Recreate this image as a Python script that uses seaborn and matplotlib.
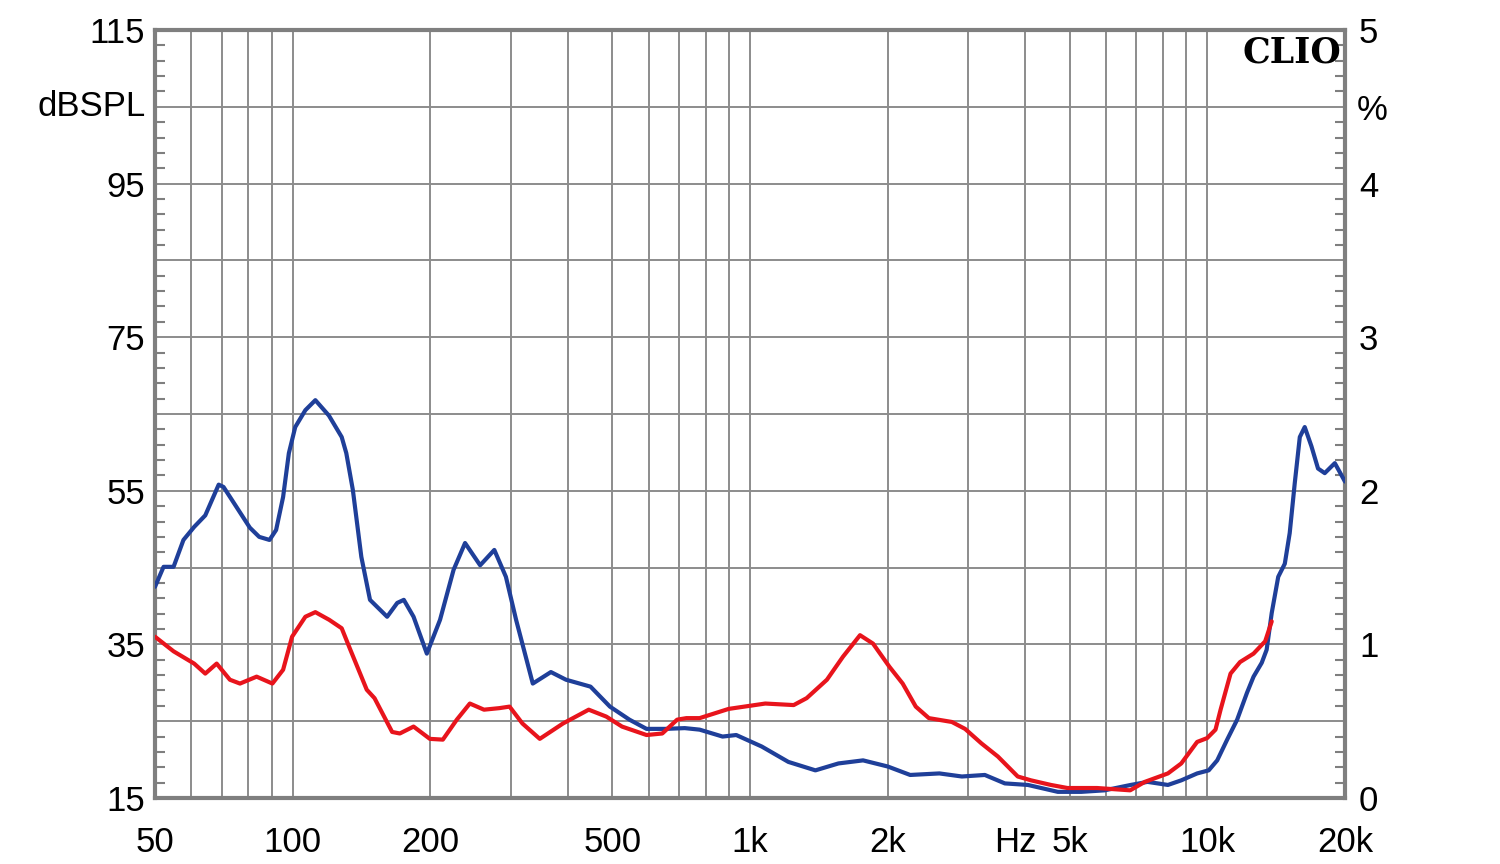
import numpy as np
import pandas as pd
import matplotlib
matplotlib.use("Agg")
import matplotlib.pyplot as plt
import matplotlib.transforms as mtransforms
import seaborn as sns

# ---- data ----
blue_freq = [50, 52.2, 54.9, 57.7, 60.9, 64.4, 68.9, 70.6, 76.1, 80.6, 84.5, 89, 92, 95.3, 98.1,
             101.3, 106.6, 112.1, 120, 128, 131, 135.4, 141.3, 147.6, 160.9, 169.3, 175, 183.8,
             196.5, 210, 224.8, 238.2, 257, 276, 292.6, 308, 335, 367, 396, 448, 494, 545, 594,
             654, 720, 776, 871, 933, 1061, 1213, 1390, 1561, 1767, 2001, 2240, 2595, 2906,
             3262, 3608, 4052, 4711, 5300, 5964, 6800, 7400, 8200, 8770, 9500, 10070, 10510,
             11050, 11620, 12210, 12620, 13150, 13480, 13830, 14290, 14770, 15140, 15530,
             15930, 16330, 16890, 17460, 18060, 19000, 20000]
blue_db = [42.5, 45.1, 45.1, 48.6, 50.3, 51.8, 55.8, 55.5, 52.5, 50.2, 49.0, 48.6, 49.9, 54.2, 59.9,
           63.3, 65.5, 66.8, 64.8, 62, 59.9, 55.1, 46.4, 40.8, 38.6, 40.4, 40.8, 38.6,
           33.8, 38.2, 44.7, 48.2, 45.3, 47.3, 43.8, 38.2, 29.9, 31.4, 30.4, 29.5, 26.9, 25.2, 24,
           24, 24.1, 23.9, 23, 23.2, 21.7, 19.7, 18.6, 19.5, 19.9, 19.1, 18, 18.2, 17.8,
           18, 16.9, 16.7, 15.8, 15.8, 16, 16.7, 17.1, 16.7, 17.3, 18.2, 18.6, 19.9,
           22.6, 25.2, 28.7, 30.8, 32.6, 34.3, 39.1, 43.8, 45.5, 49.5, 56,
           62, 63.3, 60.8, 57.9, 57.3, 58.6, 56.2]

red_freq = [50, 54.9, 60.9, 64.4, 68.2, 72.9, 76.7, 83.4, 90.3, 95.3, 99.7, 106.6, 112.1, 120.2,
            128, 133.7, 145.2, 151, 165, 171.5, 183.8, 199.5, 213, 228.5, 244, 262, 283, 298,
            318, 347, 390, 444, 485, 525, 594, 643, 693, 726, 776, 898, 1080, 1246, 1330, 1473,
            1597, 1740, 1858, 2017, 2157, 2304, 2461, 2763, 2953, 3208, 3484, 3850, 4115, 4550,
            4945, 5740, 6780, 7300, 8200, 8770, 9500, 9990, 10420, 10690, 11240, 11790, 12620,
            13380, 13830]
red_db = [36, 34.1, 32.5, 31.2, 32.5, 30.4, 29.9, 30.8, 29.9, 31.7, 36, 38.6, 39.2, 38.2,
          37.1, 34.3, 29.1, 28, 23.6, 23.4, 24.3, 22.7, 22.6, 25.2, 27.3, 26.5, 26.7, 26.9,
          24.7, 22.7, 24.7, 26.5, 25.6, 24.3, 23.2, 23.4, 25.2, 25.4, 25.4, 26.6, 27.3, 27.1, 28, 30.4,
          33.4, 36.2, 35.1, 32.1, 29.9, 26.9, 25.4, 24.9, 24, 22.1, 20.4, 17.8, 17.3, 16.7,
          16.3, 16.3, 16, 17.1, 18.2, 19.5, 22.3, 22.8, 23.9, 26.5, 31.2, 32.7, 33.8,
          35.4, 38]

x_ticks = [50, 100, 200, 500, 1000, 2000, 5000, 10000, 20000]
x_labels = ["50", "100", "200", "500", "1k", "2k", "5k", "10k", "20k"]
y_left_ticks = [15, 35, 55, 75, 95, 115]
y_right_ticks = [0, 1, 2, 3, 4, 5]

# ---- styling ----
sns.set_style("white")
plt.rcParams['font.family'] = ['Liberation Sans', 'DejaVu Sans']
plt.rcParams['text.color'] = 'black'
plt.rcParams['xtick.labelcolor'] = 'black'
plt.rcParams['ytick.labelcolor'] = 'black'

GRID = "#8c8c8c"
SPINE = "#7f7f7f"
FS = 25

fig = plt.figure(figsize=(15, 8.64), dpi=100)
ax = fig.add_axes([155 / 1500, 1 - 798 / 864, 1190 / 1500, 768 / 864])

df_blue = pd.DataFrame({"f": blue_freq, "db": blue_db})
df_red = pd.DataFrame({"f": red_freq, "db": red_db})
sns.lineplot(data=df_blue, x="f", y="db", ax=ax, color="#1f3f99", linewidth=3.0, zorder=3)
sns.lineplot(data=df_red, x="f", y="db", ax=ax, color="#e8141c", linewidth=3.0, zorder=4)

ax.set_xscale("log")
ax.set_xlim(50, 20000)
ax.set_ylim(15, 115)
ax.set_xlabel("")
ax.set_ylabel("")

# right axis in %
ax2 = ax.twinx()
ax2.set_ylim(0, 5)
ax2.set_yticks(y_right_ticks)
ax2.set_yticklabels([str(v) for v in y_right_ticks], fontsize=FS)
ax2.tick_params(axis="y", length=0, pad=10, labelcolor="black")
for s in ax2.spines.values():
    s.set_visible(False)

# vertical grid: decade subdivisions
minor_x = [f for f in list(range(60, 100, 10)) + list(range(300, 1000, 100)) +
           list(range(3000, 10000, 1000)) if f not in x_ticks]
ax.set_xticks(x_ticks)
ax.set_xticklabels(x_labels, fontsize=FS)
ax.set_xticks(minor_x, minor=True)
ax.xaxis.set_minor_formatter(matplotlib.ticker.NullFormatter())
ax.tick_params(axis="x", which="both", length=0, pad=20, labelcolor="black")

# horizontal grid every 10 dB, labels every 20 dB
major_y = list(range(15, 116, 10))
ax.set_yticks(major_y)
ax.set_yticklabels([str(v) if v in y_left_ticks else "" for v in major_y], fontsize=FS)
ax.set_yticks([v for v in range(15, 116, 2) if (v - 15) % 10 != 0], minor=True)
ax.yaxis.set_minor_formatter(matplotlib.ticker.NullFormatter())
ax.tick_params(axis="y", which="major", length=0, pad=7, left=True, right=False,
               labelleft=True, labelright=False, labelcolor="black")
ax.tick_params(axis="y", which="minor", direction="in", length=7, width=1.5,
               color=SPINE, left=True, right=True, labelleft=False, labelright=False)

ax.grid(True, which="both", axis="x", color=GRID, linewidth=1.4)
ax.grid(True, which="major", axis="y", color=GRID, linewidth=1.4)
ax.set_axisbelow(True)

for s in ax.spines.values():
    s.set_visible(True)
    s.set_color(SPINE)
    s.set_linewidth(3)

# unit labels
bt_y = mtransforms.blended_transform_factory(ax.transAxes, ax.transData)
ax.text(-0.008, 105, "dBSPL", transform=bt_y, ha="right", va="center", fontsize=FS, color="black")
ax.text(1.01, 104.5, "%", transform=bt_y, ha="left", va="center", fontsize=FS, color="black")
hz = ax.text(3800, 0.0, "Hz", transform=mtransforms.blended_transform_factory(ax.transData, ax.transAxes),
             ha="center", va="top", fontsize=FS, color="black")

ax.text(0.997, 0.993, "CLIO", transform=ax.transAxes, ha="right", va="top",
        fontsize=25, fontweight="bold", family=["DejaVu Serif"], zorder=6, color="black")

fig.canvas.draw()
# align "Hz" vertically with the x tick labels
bb = ax.get_xticklabels()[0].get_window_extent()
ytop = ax.transAxes.inverted().transform((0, bb.y1))[1]
hz.set_position((3800, ytop))

fig.savefig("out.png", dpi=100, facecolor="white")
